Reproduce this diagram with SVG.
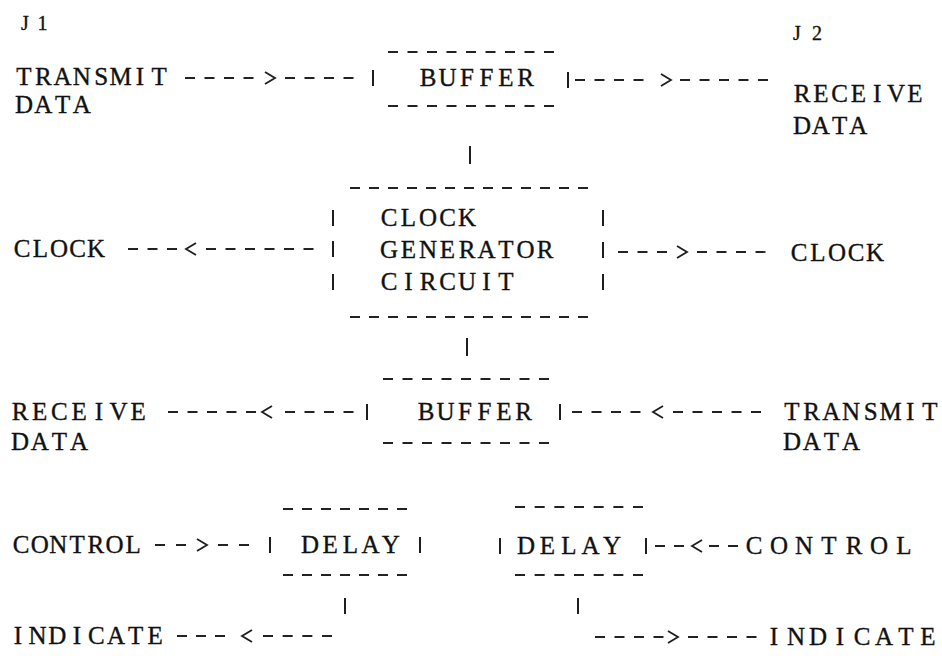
<svg xmlns="http://www.w3.org/2000/svg" xmlns:xlink="http://www.w3.org/1999/xlink" width="942" height="656" viewBox="0 0 942 656">
<style>
.t{font-family:"Liberation Serif","Times New Roman",serif;font-size:25px;fill:#111;stroke:#111;stroke-width:0.35;text-anchor:middle}
.j{font-size:20px}
.d{stroke:#222;stroke-width:1.8;fill:none;stroke-dasharray:10 9.5}
.v{stroke:#1e1e1e;stroke-width:2;fill:none}
.a{stroke:#1e1e1e;stroke-width:1.8;fill:none}
</style>
<defs>
<path id="gt" class="a" d="M-5,-6 L5,0 L-5,6"/>
<path id="lt" class="a" d="M5,-6 L-5,0 L5,6"/>
</defs>
<rect width="942" height="656" fill="#fff"/>

<g id="j1"><text class="t j" x="25 42.5" y="30">J1</text></g>
<g id="j2"><text class="t j" x="797 817" y="39.5">J2</text></g>

<g id="transmit-data-j1">
<text class="t" x="24 43.3 62.6 81.9 101.2 120.5 139.8 159.1" y="85.3">TRANSMIT</text>
<text class="t" x="24 43.3 62.6 81.9" y="113.3">DATA</text>
</g>
<g id="receive-data-j2">
<text class="t" x="802 820.8 839.6 858.4 877.2 896 914.8" y="102.3">RECEIVE</text>
<text class="t" x="802 820.8 839.6 858.4" y="134.3">DATA</text>
</g>

<g id="buffer1">
<line class="d" x1="388" y1="52" x2="554" y2="52"/>
<line class="d" x1="388" y1="106" x2="554" y2="106"/>
<line class="v" x1="373" y1="70" x2="373" y2="86"/>
<line class="v" x1="568" y1="72" x2="568" y2="88"/>
<text class="t" x="428 447.5 467 486.5 506 525.5" y="86.3">BUFFER</text>
</g>

<g id="clock-generator">
<line class="d" x1="350" y1="188" x2="588" y2="188" style="stroke-dasharray:10 9"/>
<line class="d" x1="350" y1="317" x2="588" y2="317" style="stroke-dasharray:10 9"/>
<path class="v" d="M333,210V226M333,241V257M333,274V290M603,210V226M603,242V258M603,274V290"/>
<text class="t" x="389 408.5 428 447.5 467" y="226.3">CLOCK</text>
<text class="t" x="389 408.5 428 447.5 467 486.5 506 525.5 545" y="258.3">GENERATOR</text>
<text class="t" x="389 408.5 428 447.5 467 486.5 506" y="290.3">CIRCUIT</text>
</g>

<g id="clock-j1"><text class="t" x="22 40.5 59 77.5 96" y="257.3">CLOCK</text></g>
<g id="clock-j2"><text class="t" x="799 818 837 856 875" y="261.3">CLOCK</text></g>

<g id="buffer2">
<line class="d" x1="383" y1="379" x2="549" y2="379"/>
<line class="d" x1="383" y1="443" x2="549" y2="443"/>
<line class="v" x1="367" y1="404" x2="367" y2="420"/>
<line class="v" x1="560" y1="404" x2="560" y2="420"/>
<text class="t" x="426 445.5 465 484.5 504 523.5" y="420.3">BUFFER</text>
</g>

<g id="receive-data-j1">
<text class="t" x="20 39.7 59.4 79.1 98.8 118.5 138.2" y="420.3">RECEIVE</text>
<text class="t" x="20 39.7 59.4 79.1" y="450.3">DATA</text>
</g>
<g id="transmit-data-j2">
<text class="t" x="792 811.7 831.4 851.1 870.8 890.5 910.2 929.9" y="420.3">TRANSMIT</text>
<text class="t" x="792 811.7 831.4 851.1" y="450.3">DATA</text>
</g>

<g id="delay1">
<line class="d" x1="283" y1="509" x2="407" y2="509" style="stroke-dasharray:10 9"/>
<line class="d" x1="283" y1="575" x2="407" y2="575" style="stroke-dasharray:10 9"/>
<line class="v" x1="270" y1="537" x2="270" y2="553"/>
<line class="v" x1="420" y1="537" x2="420" y2="553"/>
<text class="t" x="310 330.2 350.4 370.6 390.8" y="553.3">DELAY</text>
</g>

<g id="delay2">
<line class="d" x1="515" y1="507" x2="643" y2="507" style="stroke-dasharray:10 9.67"/>
<line class="d" x1="515" y1="575" x2="643" y2="575" style="stroke-dasharray:10 9.67"/>
<line class="v" x1="500" y1="538" x2="500" y2="554"/>
<line class="v" x1="646" y1="538" x2="646" y2="554"/>
<text class="t" x="526 547.5 569 590.5 612" y="554.3">DELAY</text>
</g>

<g id="control-j1"><text class="t" x="21 39.7 58.4 77.1 95.8 114.5 133.2" y="553.3">CONTROL</text></g>
<g id="control-j2"><text class="t" x="754 779 804 829 854 879 904" y="554.3">CONTROL</text></g>
<g id="indicate-j1"><text class="t" x="18 37.6 57.2 76.8 96.4 116 135.6 155.2" y="644.3">INDICATE</text></g>
<g id="indicate-j2"><text class="t" x="774 796 818 840 862 884 906 928" y="645.3">INDICATE</text></g>

<g id="connectors">
<line class="d" x1="185" y1="78" x2="253.5" y2="78"/>
<use xlink:href="#gt" x="270" y="78"/>
<line class="d" x1="285" y1="78" x2="353.5" y2="78"/>

<line class="d" x1="575" y1="80" x2="643.5" y2="80"/>
<use xlink:href="#gt" x="666" y="80"/>
<line class="d" x1="680" y1="80" x2="768" y2="80"/>

<line class="v" x1="470" y1="146" x2="470" y2="164"/>

<line class="d" x1="128" y1="249" x2="177" y2="249"/>
<use xlink:href="#lt" x="191" y="249"/>
<line class="d" x1="206" y1="249" x2="313.5" y2="249"/>

<line class="d" x1="618" y1="252" x2="667" y2="252"/>
<use xlink:href="#gt" x="682" y="252"/>
<line class="d" x1="697" y1="252" x2="765.5" y2="252"/>

<line class="v" x1="467" y1="338" x2="467" y2="356"/>

<line class="d" x1="168" y1="412" x2="256" y2="412"/>
<use xlink:href="#lt" x="267" y="412"/>
<line class="d" x1="285" y1="412" x2="353.5" y2="412"/>

<line class="d" x1="572" y1="412" x2="640.5" y2="412"/>
<use xlink:href="#lt" x="658" y="412"/>
<line class="d" x1="673" y1="412" x2="761" y2="412"/>

<line class="d" x1="155" y1="545" x2="186" y2="545" style="stroke-dasharray:10 11"/>
<use xlink:href="#gt" x="202" y="545"/>
<line class="d" x1="218" y1="545" x2="249" y2="545" style="stroke-dasharray:10 11"/>

<line class="d" x1="655" y1="546" x2="684" y2="546" style="stroke-dasharray:10 9"/>
<use xlink:href="#lt" x="697" y="546"/>
<line class="d" x1="709" y1="546" x2="738" y2="546" style="stroke-dasharray:10 9"/>

<line class="v" x1="345" y1="598" x2="345" y2="614"/>
<line class="v" x1="578" y1="598" x2="578" y2="614"/>

<line class="d" x1="177" y1="636" x2="225" y2="636" style="stroke-dasharray:10 9"/>
<use xlink:href="#lt" x="247" y="636"/>
<line class="d" x1="263" y1="636" x2="332" y2="636" style="stroke-dasharray:10 9.67"/>

<line class="d" x1="595" y1="637" x2="663.5" y2="637"/>
<use xlink:href="#gt" x="673" y="637"/>
<line class="d" x1="688" y1="637" x2="756.5" y2="637"/>
</g>
</svg>
